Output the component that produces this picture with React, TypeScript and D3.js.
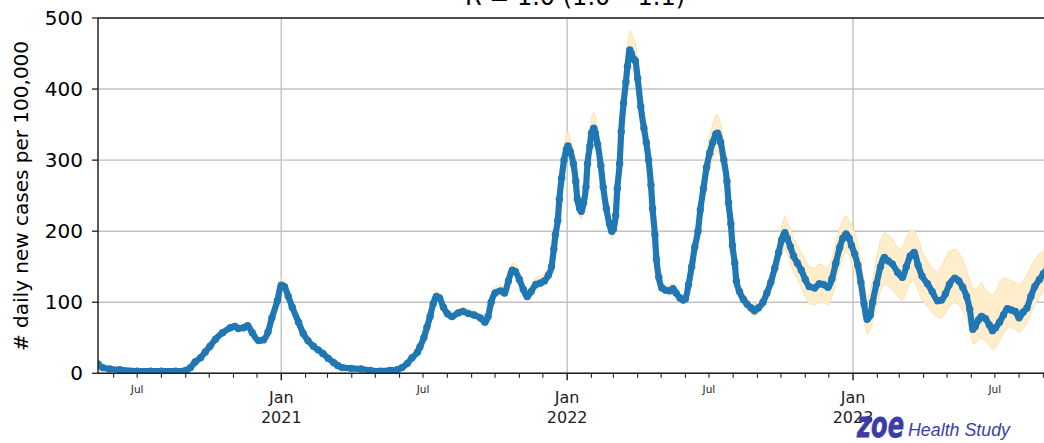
import React from "react";
import * as d3 from "d3";

const dates: string[] = [
  "2020-05-12","2020-05-18","2020-05-27","2020-06-09","2020-07-01","2020-07-18","2020-08-01","2020-08-19","2020-09-01","2020-09-07",
  "2020-09-13","2020-09-20","2020-09-26","2020-10-02","2020-10-09","2020-10-18","2020-10-28","2020-11-03","2020-11-07","2020-11-14",
  "2020-11-19","2020-11-25","2020-12-03","2020-12-09","2020-12-15","2020-12-20","2020-12-27",
  "2021-01-01","2021-01-05","2021-01-10","2021-01-15","2021-01-23","2021-01-29","2021-02-04","2021-02-11","2021-02-17","2021-02-23",
  "2021-03-02","2021-03-09","2021-03-14","2021-03-20","2021-03-31","2021-04-13","2021-04-25","2021-05-07","2021-05-20","2021-05-29",
  "2021-06-04","2021-06-11","2021-06-17","2021-06-24","2021-06-27","2021-07-02","2021-07-06","2021-07-10","2021-07-14","2021-07-18",
  "2021-07-22","2021-07-27","2021-08-01","2021-08-07","2021-08-15","2021-08-21","2021-08-28","2021-09-04","2021-09-12","2021-09-18",
  "2021-09-22","2021-09-26","2021-10-01","2021-10-08","2021-10-13","2021-10-18","2021-10-23","2021-10-27","2021-11-01","2021-11-06",
  "2021-11-11","2021-11-16","2021-11-22","2021-11-28","2021-12-03","2021-12-08","2021-12-12","2021-12-15","2021-12-17","2021-12-20",
  "2021-12-22","2021-12-25","2021-12-28","2021-12-31",
  "2022-01-02","2022-01-05","2022-01-09","2022-01-12","2022-01-14","2022-01-17","2022-01-19","2022-01-22","2022-01-25","2022-01-27",
  "2022-01-30","2022-02-01","2022-02-04","2022-02-06","2022-02-09","2022-02-13","2022-02-16","2022-02-20","2022-02-24","2022-02-27",
  "2022-03-01","2022-03-04","2022-03-06","2022-03-09","2022-03-11","2022-03-14","2022-03-17","2022-03-19","2022-03-22","2022-03-24",
  "2022-03-27","2022-03-29","2022-04-01","2022-04-05","2022-04-09","2022-04-12","2022-04-15","2022-04-18","2022-04-20","2022-04-23",
  "2022-04-25","2022-04-28","2022-05-02","2022-05-07","2022-05-12","2022-05-16","2022-05-20","2022-05-25","2022-05-29","2022-06-01",
  "2022-06-05","2022-06-09","2022-06-13","2022-06-17","2022-06-20","2022-06-24","2022-06-28","2022-07-02","2022-07-06","2022-07-10",
  "2022-07-12","2022-07-16","2022-07-20","2022-07-24","2022-07-26","2022-07-29","2022-07-31","2022-08-03","2022-08-05","2022-08-09",
  "2022-08-14","2022-08-19","2022-08-24","2022-08-28","2022-09-02","2022-09-08","2022-09-13","2022-09-18","2022-09-23","2022-09-28",
  "2022-10-02","2022-10-06","2022-10-09","2022-10-13","2022-10-17","2022-10-22","2022-10-27","2022-11-01","2022-11-06","2022-11-13",
  "2022-11-19","2022-11-24","2022-11-30","2022-12-05","2022-12-10","2022-12-15","2022-12-19","2022-12-23","2022-12-27","2022-12-30",
  "2023-01-03","2023-01-07","2023-01-11","2023-01-15","2023-01-19","2023-01-23","2023-01-26","2023-01-31","2023-02-05","2023-02-10",
  "2023-02-15","2023-02-20","2023-02-27","2023-03-05","2023-03-10","2023-03-15","2023-03-20","2023-03-25","2023-03-30","2023-04-06",
  "2023-04-12","2023-04-19","2023-04-24","2023-04-29","2023-05-04","2023-05-11","2023-05-16","2023-05-21","2023-05-26","2023-05-30",
  "2023-06-03","2023-06-06","2023-06-10","2023-06-14","2023-06-19","2023-06-24","2023-06-28","2023-07-02","2023-07-07","2023-07-12",
  "2023-07-17","2023-07-22","2023-07-27","2023-08-01","2023-08-06","2023-08-11","2023-08-16","2023-08-21","2023-08-27","2023-09-01",
  "2023-09-06",
];

const cases: number[] = [
  13, 8, 6, 5, 3, 3, 3, 3, 4, 8,
  16, 22, 30, 38, 48, 57, 64, 66, 63, 64,
  67, 57, 46, 47, 58, 78, 102,
  124, 122, 108, 93, 72, 56, 46, 38, 33, 28,
  21, 15, 11, 8, 7, 6, 4, 3, 4, 5,
  8, 14, 22, 30, 37, 50, 65, 80, 98, 108,
  106, 93, 84, 80, 85, 87, 84, 82, 78, 72,
  80, 100, 113, 116, 113, 130, 145, 143, 132, 118,
  108, 115, 125, 127, 130, 138, 150, 175, 195, 215,
  245, 275, 300, 315,
  320, 312, 295, 270, 245, 232, 228, 240, 262, 295,
  320, 338, 345, 338, 322, 292, 262, 232, 210, 200,
  203, 222, 260, 295, 340, 380, 410, 432, 455, 450,
  442, 440, 415, 375, 345, 325, 300, 265, 232, 195,
  160, 135, 120, 117, 116, 119, 113, 106, 103, 105,
  125, 150, 178, 200, 230, 260, 290, 310, 325, 337,
  338, 325, 300, 270, 240, 210, 180, 155, 130, 115,
  104, 97, 92, 88, 92, 100, 113, 128, 148, 170,
  188, 198, 190, 178, 165, 155, 145, 132, 122, 120,
  126, 125, 121, 133, 155, 177, 190, 196, 190, 180,
  168, 152, 128, 98, 76, 82, 100, 126, 150, 163,
  158, 154, 142, 135, 150, 165, 170, 152, 137, 126,
  115, 102, 103, 112, 125, 134, 130, 121, 108, 90,
  62, 66, 75, 80, 77, 68, 60, 64, 72, 82,
  91, 89, 87, 78, 86, 92, 108, 122, 132, 140,
  147,
];

const lower: number[] = [
  11, 7, 5, 4, 2, 2, 2, 2, 3, 7,
  15, 21, 28, 36, 45, 54, 61, 63, 60, 61,
  64, 54, 44, 45, 55, 74, 97,
  118, 116, 103, 88, 68, 53, 44, 36, 31, 27,
  20, 14, 10, 7, 6, 5, 3, 2, 3, 4,
  7, 13, 21, 28, 35, 47, 62, 76, 93, 103,
  101, 88, 80, 76, 81, 83, 80, 78, 74, 68,
  76, 95, 107, 110, 107, 124, 138, 136, 125, 112,
  103, 109, 119, 121, 124, 131, 143, 166, 185, 204,
  233, 261, 285, 299,
  304, 296, 280, 257, 233, 220, 217, 228, 249, 280,
  304, 321, 328, 321, 306, 277, 249, 220, 200, 190,
  193, 211, 247, 280, 323, 361, 390, 410, 432, 428,
  420, 418, 394, 356, 328, 309, 285, 252, 220, 185,
  152, 128, 114, 111, 110, 113, 107, 101, 98, 98,
  116, 140, 166, 186, 214, 242, 270, 288, 302, 313,
  314, 302, 279, 251, 223, 195, 167, 144, 121, 107,
  96, 89, 84, 80, 84, 91, 103, 116, 134, 153,
  168, 176, 168, 156, 143, 132, 122, 108, 98, 96,
  100, 99, 96, 108, 128, 150, 164, 172, 166, 156,
  144, 127, 104, 76, 55, 60, 74, 96, 116, 126,
  122, 118, 108, 102, 114, 128, 132, 116, 103, 94,
  86, 78, 78, 85, 95, 100, 97, 89, 78, 60,
  42, 42, 47, 50, 45, 38, 33, 36, 46, 56,
  64, 64, 62, 57, 63, 70, 84, 97, 107, 116,
  122,
];

const upper: number[] = [
  15, 9, 7, 6, 4, 4, 4, 4, 5, 9,
  18, 24, 33, 41, 52, 61, 69, 71, 68, 69,
  72, 61, 50, 51, 62, 84, 109,
  133, 130, 115, 99, 77, 60, 49, 41, 35, 30,
  23, 16, 12, 9, 8, 7, 5, 4, 5, 6,
  9, 15, 24, 33, 40, 54, 70, 86, 105, 116,
  114, 100, 90, 86, 91, 93, 90, 88, 84, 77,
  86, 107, 121, 124, 121, 139, 155, 153, 141, 126,
  116, 123, 134, 136, 139, 147, 160, 187, 208, 229,
  261, 293, 319, 335,
  340, 332, 314, 287, 261, 247, 243, 255, 279, 314,
  340, 360, 367, 360, 343, 311, 279, 247, 224, 213,
  216, 236, 277, 314, 362, 404, 436, 460, 482, 478,
  470, 466, 440, 398, 366, 345, 318, 281, 246, 207,
  170, 144, 128, 125, 124, 127, 121, 113, 110, 113,
  135, 162, 192, 216, 248, 281, 313, 335, 351, 364,
  365, 351, 324, 292, 259, 227, 194, 167, 140, 124,
  113, 106, 101, 97, 101, 110, 124, 141, 163, 188,
  209, 222, 214, 202, 190, 180, 170, 158, 150, 148,
  154, 152, 148, 160, 184, 205, 216, 222, 216, 208,
  198, 182, 160, 130, 106, 112, 132, 162, 188, 198,
  194, 190, 176, 176, 192, 200, 202, 190, 172, 158,
  148, 142, 150, 162, 172, 175, 170, 160, 145, 130,
  120, 118, 122, 128, 118, 112, 110, 115, 128, 135,
  133, 130, 128, 124, 130, 138, 150, 160, 168, 173,
  180,
];

const yTicks: number[] = [0, 100, 200, 300, 400, 500];
const titleText = "R = 1.0 (1.0 \u2013 1.1)";
const yLabel = "# daily new cases per 100,000";
const domainStart = "2020-05-12";
const domainEnd = "2023-09-12";

const W = 1044;
const H = 443;
const left = 98;
const right = 1052;
const top = 18;
const bottom = 373.3;

export default function App() {
  const parse = d3.utcParse("%Y-%m-%d");
  const pts = dates.map((d, i) => ({ date: parse(d) as Date, v: cases[i], lo: lower[i], hi: upper[i] }));
  const x = d3.scaleUtc().domain([parse(domainStart) as Date, parse(domainEnd) as Date]).range([left, right]);
  const y = d3.scaleLinear().domain([0, 500]).range([bottom, top]);

  const area = d3.area<any>().x((d) => x(d.date)).y0((d) => y(d.lo)).y1((d) => y(d.hi)).curve(d3.curveLinear);
  const line = d3.line<any>().x((d) => x(d.date)).y((d) => y(d.v)).curve(d3.curveMonotoneX);

  const months = d3.utcMonth.range(x.domain()[0], x.domain()[1]);
  const font = "'DejaVu Sans', sans-serif";
  const blue = "#1f77b4";

  return (
    <svg width={W} height={H} style={{ position: "absolute", left: 0, top: 0, background: "#fff" }}>
      <defs>
        <clipPath id="plot">
          <rect x={left} y={top - 2} width={right - left} height={bottom - top + 2} />
        </clipPath>
      </defs>
      {/* grid */}
      {yTicks.map((t) => (
        <line key={"gy" + t} x1={left} x2={right} y1={y(t)} y2={y(t)} stroke="#c2c2c2" strokeWidth={1.4} />
      ))}
      {months.filter((m) => m.getUTCMonth() === 0).map((m) => (
        <line key={"gx" + m.toISOString()} x1={x(m)} x2={x(m)} y1={top} y2={bottom} stroke="#c2c2c2" strokeWidth={1.4} />
      ))}
      <g clipPath="url(#plot)">
        <path d={area(pts) || ""} fill="#ffedcc" stroke="#ffe2ad" strokeWidth={1} />
        <path d={line(pts) || ""} fill="none" stroke={blue} strokeWidth={6.2} strokeLinejoin="round" strokeLinecap="round" />
        {pts.map((p, i) => (
          <circle key={i} cx={x(p.date)} cy={y(p.v)} r={3.7} fill={blue} />
        ))}
      </g>
      {/* spines */}
      <line x1={left} x2={left} y1={top} y2={bottom} stroke="#222" strokeWidth={1.5} />
      <line x1={left} x2={right} y1={bottom} y2={bottom} stroke="#222" strokeWidth={1.5} />
      <line x1={left} x2={right} y1={top} y2={top} stroke="#222" strokeWidth={1.5} />
      {/* y ticks */}
      {yTicks.map((t) => (
        <g key={"yt" + t}>
          <line x1={left - 6} x2={left} y1={y(t)} y2={y(t)} stroke="#222" strokeWidth={1.3} />
          <text x={83} y={y(t) + 7} textAnchor="end" fontFamily={font} fontSize={20} fill="#000">{t}</text>
        </g>
      ))}
      {/* x ticks */}
      {months.map((m) => {
        const isJan = m.getUTCMonth() === 0;
        const isJul = m.getUTCMonth() === 6;
        const xx = x(m);
        return (
          <g key={"xt" + m.toISOString()}>
            <line x1={xx} x2={xx} y1={bottom} y2={bottom + (isJan ? 7 : 4.5)} stroke="#222" strokeWidth={isJan ? 1.5 : 1.1} />
            {isJul && (
              <text x={xx} y={393} textAnchor="middle" fontFamily={font} fontSize={10.5} fill="#222">Jul</text>
            )}
            {isJan && (
              <text x={xx} textAnchor="middle" fontFamily={font} fontSize={16} fill="#222">
                <tspan x={xx} y={403}>Jan</tspan>
                <tspan x={xx} y={423}>{m.getUTCFullYear()}</tspan>
              </text>
            )}
          </g>
        );
      })}
      {/* title */}
      <text x={(left + right) / 2} y={5} textAnchor="middle" fontFamily={font} fontSize={24} fill="#000">{titleText}</text>
      {/* y label */}
      <text transform="translate(28,196) rotate(-90)" textAnchor="middle" fontFamily={font} fontSize={20} fill="#000">{yLabel}</text>
      {/* logo */}
      <text x={857} y={437} fontFamily="'DejaVu Sans', sans-serif" fontWeight={900} fontStyle="italic" fontSize={36} fill="#3a3da4" textLength={47} lengthAdjust="spacingAndGlyphs" stroke="#3a3da4" strokeWidth={0.8}>zoe</text>
      <text x={908} y={436} fontFamily="'Liberation Sans', sans-serif" fontStyle="italic" fontSize={18.5} fill="#3a3da4" textLength={102} lengthAdjust="spacingAndGlyphs">Health Study</text>
    </svg>
  );
}
